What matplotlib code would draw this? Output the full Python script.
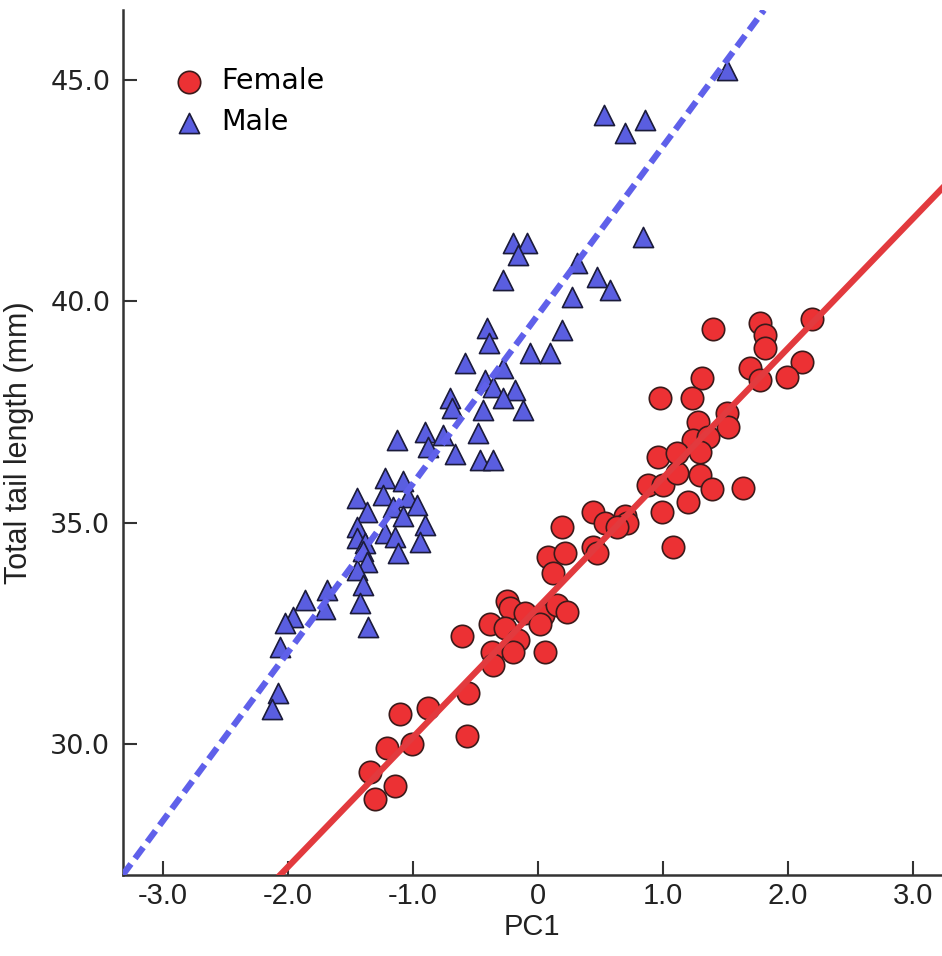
import numpy as np
import matplotlib
matplotlib.use("Agg")
import matplotlib.pyplot as plt

# valores (PC1, comprimento total da cauda em mm)
female_pc1 = [0.19, 0.44, 0.08, 0.22, 0.12, 0.44, 0.47, -0.25, -0.22, -0.10,
              -0.38, -0.26, 0.04, 0.15, 0.23, 0.02, -0.61, -0.16, -0.37, -0.20,
              -0.36, 0.06, -0.56, -1.10, -0.88, -1.21, -1.01, -0.57, -1.34, -1.14,
              -1.30, 0.54, 0.70, 0.71, 0.63, 0.88, 1.00, 1.11, 1.30, 1.39,
              1.20, 0.99, 1.08, 1.40, 1.78, 1.82, 1.82, 2.19, 2.11, 1.99,
              1.70, 1.78, 1.31, 1.23, 0.98, 1.51, 1.52, 1.28, 1.24, 1.36,
              1.30, 0.96, 1.11, 1.64]
female_tail = [34.91, 35.23, 34.23, 34.32, 33.87, 34.46, 34.32, 33.22, 33.08, 32.97,
               32.70, 32.63, 32.92, 33.15, 32.99, 32.70, 32.43, 32.36, 32.07, 32.07,
               31.79, 32.07, 31.16, 30.67, 30.82, 29.92, 29.99, 30.17, 29.36, 29.04,
               28.75, 35.00, 35.14, 35.00, 34.91, 35.86, 35.86, 36.13, 36.08, 35.75,
               35.47, 35.23, 34.46, 39.38, 39.51, 39.24, 38.95, 39.61, 38.63, 38.30,
               38.50, 38.23, 38.27, 37.82, 37.82, 37.48, 37.17, 37.28, 36.87, 36.94,
               36.60, 36.49, 36.58, 35.79]

male_pc1 = [1.51, 0.53, 0.70, 0.86, 0.84, -0.20, -0.09, -0.16, -0.28, 0.31,
            0.47, 0.58, 0.27, 0.19, -0.41, -0.39, -0.06, 0.10, -0.58, -0.28,
            -0.42, -0.36, -0.18, -0.28, -0.70, -0.69, -0.44, -0.12, -1.13, -0.90,
            -0.76, -0.48, -0.88, -0.66, -0.46, -0.36, -1.22, -1.08, -1.45, -1.24,
            -1.04, -1.16, -0.97, -1.37, -1.08, -0.90, -1.45, -1.22, -1.14, -1.45,
            -1.38, -0.94, -1.12, -1.40, -1.37, -1.45, -1.40, -1.42, -1.36, -1.69,
            -1.86, -1.70, -1.96, -2.02, -2.06, -2.08, -2.13]
male_tail = [45.23, 44.21, 43.80, 44.10, 41.46, 41.32, 41.32, 41.05, 40.49, 40.87,
             40.55, 40.26, 40.10, 39.36, 39.40, 39.06, 38.84, 38.84, 38.61, 38.50,
             38.23, 38.07, 38.00, 37.82, 37.82, 37.60, 37.55, 37.55, 36.87, 37.05,
             36.99, 37.03, 36.72, 36.54, 36.42, 36.42, 36.02, 35.93, 35.56, 35.63,
             35.59, 35.36, 35.41, 35.25, 35.14, 34.95, 34.91, 34.77, 34.68, 34.66,
             34.55, 34.57, 34.32, 34.35, 34.12, 33.94, 33.60, 33.19, 32.65, 33.49,
             33.26, 33.04, 32.88, 32.74, 32.20, 31.16, 30.78]

# retas de regressao (inclinacao, intercepto)
female_fit = (2.93, 33.08)
male_fit = (3.81, 39.69)

xticks = [-3, -2, -1, 0, 1, 2, 3]
xtick_labels = ["-3.0", "-2.0", "-1.0", "0", "1.0", "2.0", "3.0"]
yticks = [30, 35, 40, 45]
ytick_labels = ["30.0", "35.0", "40.0", "45.0"]

narrow = ["Liberation Sans Narrow", "Liberation Sans", "DejaVu Sans"]

fig = plt.figure(figsize=(9.42, 9.56), dpi=100)
ax = fig.add_axes([0.1303, 0.0847, 0.8697, 0.9048])

ax.scatter(female_pc1, female_tail, s=260, marker="o", facecolor="#ec3134",
           edgecolor="#3b1a1a", linewidth=1.2, zorder=3, label="Female")
ax.scatter(male_pc1, male_tail, s=210, marker="^", facecolor="#5a5ee0",
           edgecolor="#1b1b3a", linewidth=1.2, zorder=3, label="Male")

ax.axline((0, female_fit[1]), slope=female_fit[0], color="#e23a3e",
          linewidth=4.5, zorder=4)
ax.axline((0, male_fit[1]), slope=male_fit[0], color="#5f60ea",
          linewidth=4.5, linestyle=(0, (2.2, 1.1)), zorder=4)

ax.set_xlim(-3.32, 3.232)
ax.set_ylim(27.04, 46.58)

ax.set_xticks(xticks)
ax.set_xticklabels(xtick_labels, family=narrow, fontsize=21)
ax.set_yticks(yticks)
ax.set_yticklabels(ytick_labels, fontsize=19.5)
ax.tick_params(direction="in", length=10, width=1.5, color="#333333",
               labelcolor="#222222")
ax.tick_params(axis="y", pad=9)
ax.tick_params(axis="x", pad=5)

for side in ["top", "right"]:
    ax.spines[side].set_visible(False)
for side in ["left", "bottom"]:
    ax.spines[side].set_linewidth(1.8)
    ax.spines[side].set_color("#333333")

ax.set_xlabel("PC1", family=narrow, fontsize=21, color="#222222", labelpad=2)
ax.set_ylabel("Total tail length (mm)", family=narrow, fontsize=22,
              color="#222222", labelpad=12)

ax.legend(loc="upper left", bbox_to_anchor=(0.032, 0.947), frameon=False,
          fontsize=20.5, handletextpad=0.15, labelspacing=0.45,
          borderaxespad=0, scatterpoints=1)

fig.savefig("out.png", dpi=100)
